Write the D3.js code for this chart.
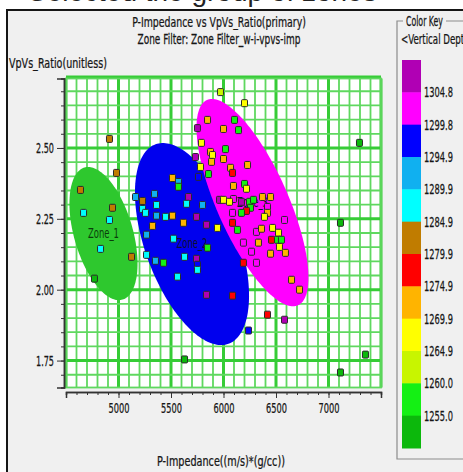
<!DOCTYPE html>
<html>
<head>
<meta charset="utf-8">
<script src="https://cdn.jsdelivr.net/npm/d3@7"></script>
<style>
  html, body { margin: 0; padding: 0; background: #ffffff; }
  svg { display: block; }
  text { font-family: "Liberation Sans Narrow", "Arial Narrow", "DejaVu Sans Condensed", sans-serif; fill: #161616; }
</style>
</head>
<body>
<svg id="chart" width="463" height="472"></svg>
<script>
// ---- Crossplot samples: P-Impedance, Vp/Vs ratio and vertical depth ----
const impedance = [
  5971, 6200, 4914, 4981, 4638, 4667, 4943, 4914, 4829, 5124,
  4771, 5848, 6105, 6143, 6000, 5752, 5790, 5876, 5895, 6019,
  6000, 5733, 5886, 5781, 5857, 5762, 6067, 6086, 6229, 6095,
  6200, 6219, 5514, 5571, 5571, 5667, 5162, 5229, 5343, 5362,
  5229, 5257, 5648, 5800, 5962, 6000, 6095, 6171, 6248, 6286,
  6371, 6448, 6419, 6257, 6219, 6171, 6086, 6419, 6581, 5362,
  5448, 5514, 5324, 5267, 5267, 5352, 5429, 5524, 5619, 5743,
  5838, 5943, 5848, 5629, 5743, 5752, 5752, 5562, 5838, 6086,
  6238, 5629, 6086, 6133, 6190, 6267, 6190, 6314, 6314, 6333,
  6362, 6467, 6524, 6457, 6514, 6552, 6533, 6448, 6590, 6648,
  6724, 6419, 6581, 7295, 7114, 7352, 7114, 6390, 6057
];
const vpvsRatio = [
  2.697, 2.658, 2.532, 2.412, 2.352, 2.271, 2.289, 2.246, 2.144, 2.116,
  2.039, 2.599, 2.599, 2.563, 2.567, 2.570, 2.518, 2.486, 2.475, 2.496,
  2.461, 2.468, 2.451, 2.433, 2.408, 2.398, 2.430, 2.412, 2.440, 2.366,
  2.373, 2.356, 2.394, 2.380, 2.363, 2.327, 2.327, 2.313, 2.338, 2.299,
  2.285, 2.271, 2.303, 2.299, 2.317, 2.317, 2.320, 2.310, 2.310, 2.317,
  2.327, 2.327, 2.292, 2.289, 2.278, 2.271, 2.271, 2.271, 2.246, 2.261,
  2.257, 2.261, 2.225, 2.194, 2.123, 2.102, 2.095, 2.180, 2.236, 2.257,
  2.229, 2.218, 2.148, 2.116, 2.109, 2.088, 2.070, 2.046, 1.982, 1.979,
  1.856, 1.754, 2.236, 2.211, 2.166, 2.134, 2.095, 2.095, 2.204, 2.166,
  2.215, 2.218, 2.201, 2.176, 2.176, 2.176, 2.151, 2.127, 2.130, 2.035,
  2.000, 1.912, 1.894, 2.518, 2.236, 1.771, 1.708, 2.257, 2.310
];
const depth = [
  1262, 1267, 1282, 1282, 1282, 1287, 1282, 1287, 1287, 1282,
  1252, 1272, 1257, 1257, 1272, 1307, 1267, 1272, 1267, 1257,
  1272, 1307, 1272, 1267, 1257, 1297, 1272, 1277, 1272, 1272,
  1257, 1267, 1272, 1292, 1257, 1307, 1292, 1282, 1292, 1287,
  1287, 1287, 1287, 1292, 1307, 1267, 1302, 1307, 1257, 1257,
  1272, 1272, 1302, 1257, 1277, 1257, 1302, 1272, 1302, 1292,
  1287, 1272, 1272, 1292, 1287, 1292, 1257, 1287, 1272, 1307,
  1307, 1267, 1257, 1287, 1307, 1297, 1287, 1287, 1307, 1277,
  1297, 1252, 1277, 1257, 1302, 1302, 1277, 1302, 1302, 1272,
  1272, 1267, 1267, 1277, 1257, 1257, 1267, 1272, 1272, 1272,
  1272, 1277, 1307, 1252, 1252, 1252, 1252, 1267, 1267
];

// ---- Axis ticks ----
const xTicks = [5000, 5500, 6000, 6500, 7000];
const yTicks = [1.75, 2.00, 2.25, 2.50];

// ---- Colour key: depth class boundaries (ascending) and class colours ----
const depthBreaks = [1255.0, 1260.0, 1264.9, 1269.9, 1274.9, 1279.9, 1284.9, 1289.9, 1294.9, 1299.8, 1304.8];
const keyColors = ["#0cb80c", "#14f014", "#c8f500", "#ffff00", "#ffb400", "#ff0000",
                   "#c07c00", "#00ffff", "#10b0f0", "#0000ff", "#ff00ff", "#b000b4"];

// ---- Zone filter ellipses: centre and conjugate semi-axis vectors in data units ----
const zoneNames = ["Zone_1", "Zone_2", "Zone_3"];
const zoneCenterImp = [4857, 5700, 6276];
const zoneCenterRatio = [2.198, 2.161, 2.307];
const zoneMajorImp = [181, 347, 433];
const zoneMajorRatio = [-0.233, -0.352, -0.362];
const zoneMinorImp = [269, 418, 311];
const zoneMinorRatio = [0.029, 0.056, 0.051];
const zoneColors = ["#2ec82e", "#0000ee", "#ff00ff"];

// ---------------------------------------------------------------------------
const svg = d3.select("#chart");
const W = 463, H = 472;
const FONT = "14px";

// Tall condensed lettering: compress each label horizontally about its anchor
function squeeze(sel, width) {
  sel.each(function () {
    const t = d3.select(this);
    const natural = this.getComputedTextLength();
    if (!natural) return;
    const f = width / natural;
    const ax = +(t.attr("x") || 0);
    t.attr("transform", `translate(${ax},0) scale(${f},1) translate(${-ax},0)`);
  });
  return sel;
}
function label(parent, x, y, str, width, anchor) {
  const t = parent.append("text").attr("x", x).attr("y", y)
    .attr("text-anchor", anchor || "start").style("font-size", FONT)
    .style("stroke", "#161616").style("stroke-width", 0.25)
    .text(str);
  if (width) squeeze(t, width);
  return t;
}

const plot = { left: 66, right: 381, top: 78.5, bottom: 387.5 };
const x = d3.scaleLinear().domain([4500, 7500]).range([plot.left, plot.right]);
const y = d3.scaleLinear().domain([1.655, 2.745]).range([plot.bottom, plot.top]);
const color = d3.scaleThreshold().domain(depthBreaks).range(keyColors);

// Page caption strip, only its lower edge shows above the window
const defs = svg.append("defs");
defs.append("clipPath").attr("id", "headClip")
  .append("rect").attr("x", 0).attr("y", 0).attr("width", W).attr("height", 10);
svg.append("text")
  .attr("clip-path", "url(#headClip)")
  .attr("x", 28).attr("y", 1)
  .style("font-family", "'Liberation Sans', sans-serif")
  .style("font-size", "28px")
  .style("fill", "#222")
  .text("Selected the group of zones");

// Window frame
svg.append("rect")
  .attr("x", 7).attr("y", 10).attr("width", W).attr("height", H)
  .attr("fill", "#f0f0f0").attr("stroke", "#151515").attr("stroke-width", 2);

// Titles
label(svg, 219, 27, "P-Impedance vs VpVs_Ratio(primary)", 174, "middle");
label(svg, 219, 44, "Zone Filter: Zone Filter_w-i-vpvs-imp", 163, "middle");
label(svg, 9, 68, "VpVs_Ratio(unitless)", 98);
label(svg, 221, 466, "P-Impedance((m/s)*(g/cc))", 128, "middle");

// Plot background
svg.append("rect")
  .attr("x", plot.left).attr("y", plot.top)
  .attr("width", plot.right - plot.left).attr("height", plot.bottom - plot.top)
  .attr("fill", "#ffffff");

// Grid: every 100 impedance units and every 0.05 ratio units, heavier on major ticks
const grid = svg.append("g");
const vLines = d3.range(4500, 7501, 100);
const hLines = d3.range(1.70, 2.7501, 0.05).map(v => +v.toFixed(2));
const isMajorRatio = d => Math.abs(d * 4 - Math.round(d * 4)) < 1e-6;
grid.selectAll("line.v").data(vLines).join("line")
  .attr("x1", d => x(d)).attr("x2", d => x(d))
  .attr("y1", plot.top).attr("y2", plot.bottom)
  .attr("stroke", d => d % 500 === 0 ? "#36cc36" : "#5fd85f")
  .attr("stroke-width", d => d % 500 === 0 ? 3 : 1.8);
grid.selectAll("line.h").data(hLines).join("line")
  .attr("x1", plot.left).attr("x2", plot.right)
  .attr("y1", d => y(d)).attr("y2", d => y(d))
  .attr("stroke", d => isMajorRatio(d) ? "#36cc36" : "#5fd85f")
  .attr("stroke-width", d => isMajorRatio(d) ? 3 : 1.8);
grid.append("rect")
  .attr("x", plot.left).attr("y", plot.top)
  .attr("width", plot.right - plot.left).attr("height", plot.bottom - plot.top)
  .attr("fill", "none").attr("stroke", "#5fd85f").attr("stroke-width", 1.8);

// Zone ellipses
const ellipseLine = d3.line().curve(d3.curveLinearClosed);
const zones = zoneNames.map((name, i) => ({
  name, i,
  pts: d3.range(0, 2 * Math.PI, Math.PI / 90).map(t => [
    x(zoneCenterImp[i] + Math.cos(t) * zoneMajorImp[i] + Math.sin(t) * zoneMinorImp[i]),
    y(zoneCenterRatio[i] + Math.cos(t) * zoneMajorRatio[i] + Math.sin(t) * zoneMinorRatio[i])
  ])
}));
svg.append("g").selectAll("path").data(zones).join("path")
  .attr("d", d => ellipseLine(d.pts))
  .attr("fill", d => zoneColors[d.i]);

const zoneLabels = svg.append("g").selectAll("text").data(zones).join("text")
  .attr("x", d => x(zoneCenterImp[d.i]))
  .attr("y", d => y(zoneCenterRatio[d.i]) + 4)
  .attr("text-anchor", "middle")
  .style("font-size", FONT)
  .style("fill", d => d.i === 0 ? "#0b3d0b" : "#101030")
  .text(d => d.name);
squeeze(zoneLabels, 31);

// Sample points
const samples = impedance.map((v, i) => ({ imp: v, r: vpvsRatio[i], z: depth[i] }));
svg.append("g").selectAll("rect").data(samples).join("rect")
  .attr("x", d => x(d.imp) - 3)
  .attr("y", d => y(d.r) - 3.5)
  .attr("width", 6).attr("height", 7)
  .attr("rx", 1)
  .attr("fill", d => color(d.z))
  .attr("stroke", "#2a2a2a").attr("stroke-width", 1);

// Axes
const yAxis = svg.append("g").attr("transform", "translate(64,0)");
yAxis.call(d3.axisLeft(y).tickValues(d3.range(1.70, 2.7401, 0.05)).tickSize(3).tickFormat(""));
const yMajor = yAxis.append("g")
  .call(d3.axisLeft(y).tickValues(yTicks).tickSize(7).tickPadding(3).tickFormat(d3.format(".2f")));
const xAxis = svg.append("g").attr("transform", "translate(0,392)");
xAxis.call(d3.axisBottom(x).tickValues(d3.range(4600, 7500, 100)).tickSize(3).tickFormat(""));
const xMajor = xAxis.append("g")
  .call(d3.axisBottom(x).tickValues(xTicks).tickSize(6).tickPadding(5).tickFormat(d3.format("d")));
svg.selectAll(".domain").attr("stroke", "#333").attr("stroke-width", 1.5);
svg.selectAll(".tick line").attr("stroke", "#333");
svg.selectAll(".tick text")
  .style("font-size", FONT)
  .style("font-family", "'Liberation Sans Narrow','Arial Narrow','DejaVu Sans Condensed',sans-serif")
  .style("stroke", "#161616").style("stroke-width", 0.25)
  .attr("fill", "#161616");
squeeze(yMajor.selectAll(".tick text"), 18);
squeeze(xMajor.selectAll(".tick text"), 21);

// Colour key panel
const key = svg.append("g");
key.append("path")
  .attr("d", "M403,21H397V459H470M446,21H470")
  .attr("fill", "none").attr("stroke", "#8c8c8c").attr("stroke-width", 1.2);
label(key, 406, 26, "Color Key", 37);
label(key, 401, 44, "<Vertical Depth>", 76);

const keyTop = 60, keyBottom = 448, keyX = 402, keyW = 19;
const segH = (keyBottom - keyTop) / keyColors.length;
const segs = keyColors.slice().reverse();
key.selectAll("rect").data(segs).join("rect")
  .attr("x", keyX).attr("y", (d, i) => keyTop + i * segH)
  .attr("width", keyW).attr("height", segH + 0.5)
  .attr("fill", d => d);
const keyLabels = depthBreaks.slice().reverse();
const keyText = key.selectAll("text.lab").data(keyLabels).join("text")
  .attr("class", "lab")
  .attr("x", 424)
  .attr("y", (d, i) => keyTop + (i + 1) * segH + 5)
  .style("font-size", FONT)
  .style("stroke", "#161616").style("stroke-width", 0.25)
  .text(d => d3.format(".1f")(d));
squeeze(keyText, 29);
</script>
</body>
</html>
